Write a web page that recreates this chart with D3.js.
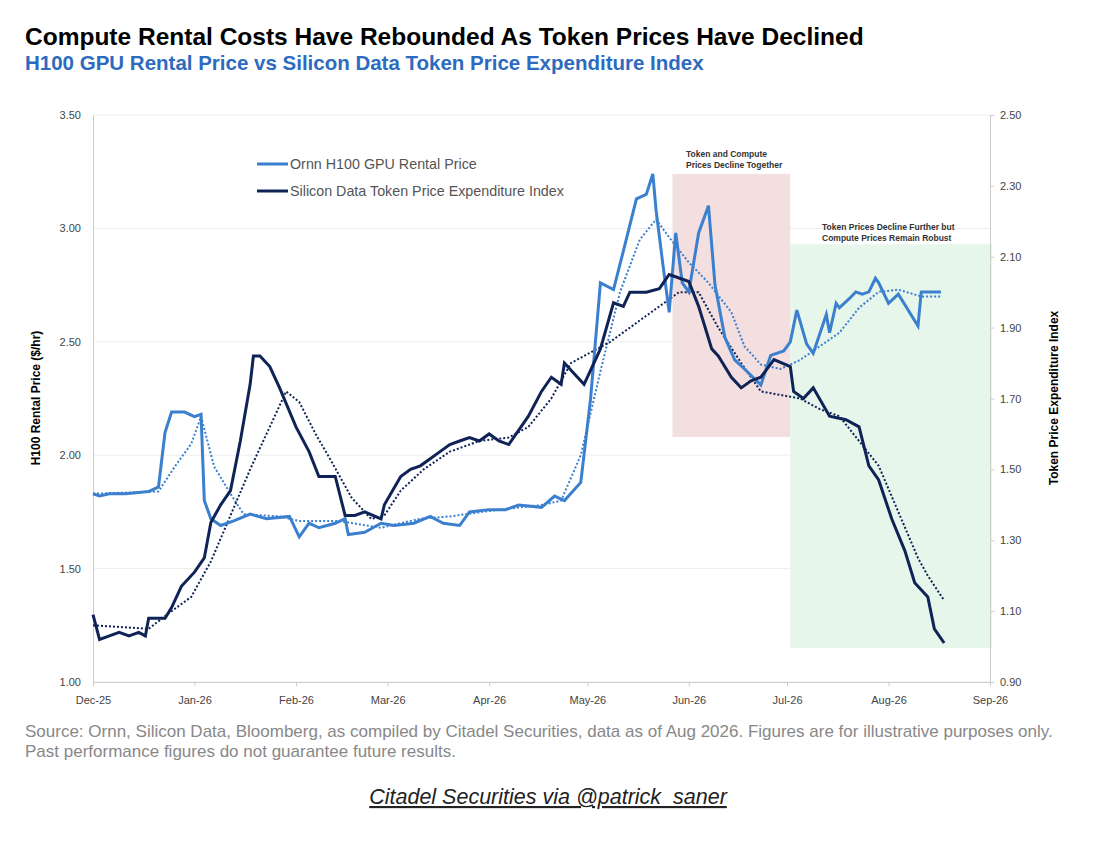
<!DOCTYPE html>
<html lang="en">
<head>
<meta charset="utf-8">
<script src="https://d3js.org/d3.v7.min.js"></script>
<style>
  body { margin: 0; background: #fff; font-family: Arial, "Liberation Sans", sans-serif; }
  .tick text { font-size: 11px; fill: #444; }
  .domain { stroke: #ccc; }
  .tick line { stroke: #ccc; }
</style>
</head>
<body>
<div id="chart"></div>
<script>
// [day since 1 Dec 2025, value]
var gpu = [[0,1.83],[2,1.82],[5,1.83],[10,1.83],[17,1.84],[20,1.86],[22,2.10],[24,2.19],[28,2.19],[31,2.17],[33,2.18],[34,1.80],[36,1.72],[39,1.69],[43,1.71],[48,1.74],[53,1.72],[60,1.73],[63,1.64],[66,1.70],[69,1.68],[74,1.70],[77,1.72],[78,1.65],[83,1.66],[88,1.70],[92,1.69],[98,1.70],[103,1.73],[107,1.70],[112,1.69],[115,1.75],[121,1.76],[126,1.76],[130,1.78],[137,1.77],[141,1.82],[144,1.80],[149,1.88],[152,2.25],[155,2.76],[159,2.73],[162,2.90],[166,3.13],[169,3.15],[171,3.24],[172,3.08],[174,2.85],[176,2.63],[178,2.98],[180,2.76],[182,2.72],[185,2.98],[188,3.10],[190,2.75],[193,2.52],[196,2.42],[199,2.38],[204,2.31],[207,2.44],[211,2.46],[213,2.50],[215,2.64],[218,2.49],[220,2.45],[224,2.62],[225,2.54],[227,2.67],[228,2.65],[231,2.69],[233,2.72],[235,2.71],[237,2.72],[239,2.78],[240,2.76],[243,2.67],[246,2.71],[252,2.57],[253,2.72],[259,2.72]];
var gpuAvg = [[0,1.83],[20,1.84],[25,1.95],[30,2.05],[33,2.17],[37,1.95],[42,1.83],[46,1.74],[57,1.73],[63,1.71],[75,1.71],[88,1.68],[100,1.72],[109,1.73],[124,1.76],[137,1.78],[143,1.80],[149,2.00],[155,2.37],[161,2.72],[167,2.95],[172,3.04],[176,2.96],[182,2.85],[188,2.76],[195,2.63],[199,2.48],[204,2.40],[210,2.38],[216,2.42],[222,2.48],[228,2.54],[234,2.65],[240,2.72],[246,2.73],[253,2.70],[259,2.70]];
var token = [[0,1.09],[2,1.02],[5,1.03],[8,1.04],[11,1.03],[14,1.04],[16,1.03],[17,1.08],[22,1.08],[24,1.11],[27,1.17],[31,1.21],[34,1.25],[36,1.35],[39,1.40],[42,1.44],[45,1.58],[48,1.74],[49,1.82],[51,1.82],[54,1.79],[57,1.73],[62,1.62],[66,1.55],[69,1.48],[74,1.48],[77,1.37],[80,1.37],[83,1.38],[88,1.36],[89,1.40],[94,1.48],[97,1.50],[100,1.51],[103,1.53],[106,1.55],[109,1.57],[112,1.58],[115,1.59],[118,1.58],[121,1.60],[124,1.58],[127,1.57],[130,1.61],[133,1.65],[137,1.72],[140,1.76],[143,1.74],[144,1.80],[147,1.77],[150,1.74],[155,1.84],[159,1.97],[162,1.96],[164,2.00],[169,2.00],[173,2.01],[176,2.05],[179,2.04],[182,2.03],[185,1.96],[189,1.84],[191,1.82],[195,1.76],[198,1.73],[201,1.75],[204,1.76],[208,1.81],[213,1.79],[214,1.72],[217,1.70],[220,1.73],[225,1.65],[230,1.64],[234,1.62],[237,1.51],[240,1.47],[244,1.36],[248,1.27],[251,1.18],[255,1.14],[257,1.05],[260,1.01]];
var tokenAvg = [[0,1.06],[17,1.05],[24,1.10],[30,1.14],[36,1.24],[42,1.37],[48,1.50],[54,1.62],[59,1.72],[63,1.69],[68,1.60],[73,1.52],[79,1.42],[85,1.36],[89,1.37],[94,1.44],[101,1.50],[109,1.55],[118,1.58],[127,1.59],[133,1.62],[140,1.70],[146,1.80],[152,1.83],[158,1.86],[167,1.92],[173,1.96],[179,2.00],[185,2.00],[191,1.90],[198,1.80],[204,1.72],[210,1.71],[216,1.70],[222,1.67],[228,1.65],[234,1.58],[240,1.51],[246,1.38],[252,1.25],[255,1.20],[260,1.13]];

var start = new Date(2025, 11, 1);
function toDate(d) { return d3.timeDay.offset(start, d[0]); }

var light = "#3b7fcf", navy = "#0f2357";
var svg = d3.select("#chart").append("svg").attr("width", 1100).attr("height", 850);

var x = d3.scaleTime().domain([start, new Date(2026, 8, 1)]).range([93, 990]);
var yL = d3.scaleLinear().domain([1, 3.5]).range([682, 115]);
var yR = d3.scaleLinear().domain([0.9, 2.5]).range([682, 115]);

// titles
svg.append("text").attr("x", 25).attr("y", 45).style("font-size", "24.5px").style("font-weight", "bold").attr("fill", "#000")
  .text("Compute Rental Costs Have Rebounded As Token Prices Have Declined");
svg.append("text").attr("x", 25).attr("y", 70).style("font-size", "20.5px").style("font-weight", "bold").attr("fill", "#2d6bc0")
  .text("H100 GPU Rental Price vs Silicon Data Token Price Expenditure Index");

// gridlines
svg.append("g").selectAll("line").data(d3.range(1, 3.51, 0.5)).enter().append("line")
  .attr("x1", 93).attr("x2", 990).attr("y1", d => yL(d)).attr("y2", d => yL(d))
  .attr("stroke", "#eeeeee");

// shaded regions
svg.append("rect").attr("x", x(toDate([177]))).attr("width", x(toDate([213])) - x(toDate([177])))
  .attr("y", yL(3.24)).attr("height", yL(2.08) - yL(3.24)).attr("fill", "#f2dcdc").attr("opacity", 0.9);
svg.append("rect").attr("x", x(toDate([213]))).attr("width", 992 - x(toDate([213])))
  .attr("y", yL(2.93)).attr("height", yL(1.15) - yL(2.93)).attr("fill", "#e3f5e9").attr("opacity", 0.9);

svg.append("text").attr("x", 686).attr("y", 157).style("font-size", "8.5px").style("font-weight", "bold").attr("fill", "#333")
  .selectAll("tspan").data(["Token and Compute", "Prices Decline Together"]).enter().append("tspan")
  .attr("x", 686).attr("dy", (d, i) => i ? 11 : 0).text(d => d);
svg.append("text").attr("x", 822).attr("y", 230).style("font-size", "8.5px").style("font-weight", "bold").attr("fill", "#333")
  .selectAll("tspan").data(["Token Prices Decline Further but", "Compute Prices Remain Robust"]).enter().append("tspan")
  .attr("x", 822).attr("dy", (d, i) => i ? 11 : 0).text(d => d);

// axes
svg.append("g").attr("transform", "translate(0,682)")
  .call(d3.axisBottom(x).ticks(d3.timeMonth.every(1)).tickFormat(d3.timeFormat("%b-%y")).tickSize(4))
  .call(g => g.selectAll("text").attr("dy", "1.4em"));
svg.append("g").attr("transform", "translate(93,0)")
  .call(d3.axisLeft(yL).tickValues(d3.range(1, 3.51, 0.5)).tickFormat(d3.format(".2f")).tickSize(0).tickPadding(12));
svg.append("g").attr("transform", "translate(990,0)")
  .call(d3.axisRight(yR).tickValues(d3.range(0.9, 2.51, 0.2)).tickFormat(d3.format(".2f")).tickSize(4).tickPadding(6));

svg.append("text").attr("transform", "translate(40,398) rotate(-90)").attr("text-anchor", "middle")
  .style("font-size", "12px").style("font-weight", "bold").text("H100 Rental Price ($/hr)");
svg.append("text").attr("transform", "translate(1058,398) rotate(-90)").attr("text-anchor", "middle")
  .style("font-size", "12px").style("font-weight", "bold").text("Token Price Expenditure Index");

// lines
var lineL = d3.line().x(d => x(toDate(d))).y(d => yL(d[1]));
var lineR = d3.line().x(d => x(toDate(d))).y(d => yR(d[1]));
svg.append("path").attr("d", lineL(gpuAvg)).attr("fill", "none").attr("stroke", light).attr("stroke-width", 2).attr("stroke-dasharray", "2,2");
svg.append("path").attr("d", lineR(tokenAvg)).attr("fill", "none").attr("stroke", navy).attr("stroke-width", 2).attr("stroke-dasharray", "2,2");
svg.append("path").attr("d", lineL(gpu)).attr("fill", "none").attr("stroke", light).attr("stroke-width", 3);
svg.append("path").attr("d", lineR(token)).attr("fill", "none").attr("stroke", navy).attr("stroke-width", 3);

// legend
var legend = [["Ornn H100 GPU Rental Price", light], ["Silicon Data Token Price Expenditure Index", navy]];
legend.forEach(function(l, i) {
  svg.append("line").attr("x1", 257).attr("x2", 288).attr("y1", 164 + i * 27).attr("y2", 164 + i * 27)
    .attr("stroke", l[1]).attr("stroke-width", 3);
  svg.append("text").attr("x", 290).attr("y", 169 + i * 27).style("font-size", "14.3px").attr("fill", "#555").text(l[0]);
});

// footer
svg.append("text").attr("x", 25).attr("y", 737).style("font-size", "17px").attr("fill", "#888")
  .text("Source: Ornn, Silicon Data, Bloomberg, as compiled by Citadel Securities, data as of Aug 2026. Figures are for illustrative purposes only.");
svg.append("text").attr("x", 25).attr("y", 757).style("font-size", "17px").attr("fill", "#888")
  .text("Past performance figures do not guarantee future results.");
svg.append("text").attr("x", 548).attr("y", 804).attr("text-anchor", "middle").style("font-size", "21.5px")
  .style("font-style", "italic").style("text-decoration", "underline").attr("fill", "#222")
  .text("Citadel Securities via @patrick_saner");
</script>
</body>
</html>
